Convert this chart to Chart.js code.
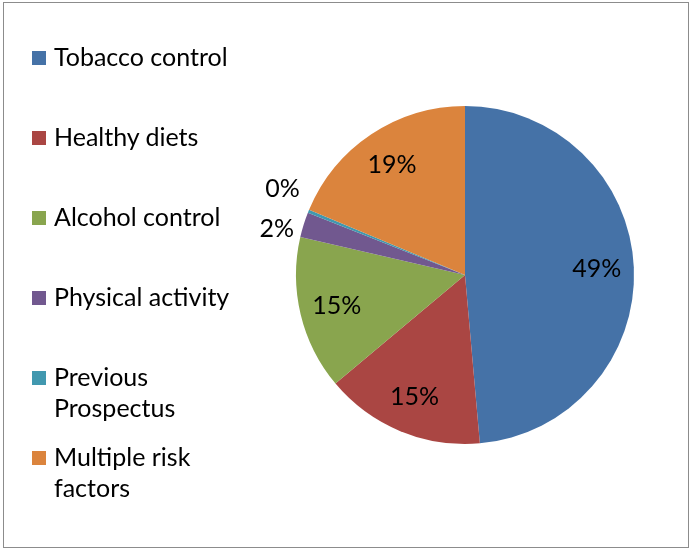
<!DOCTYPE html>
<html>
<head>
<meta charset="utf-8">
<script src="https://cdn.jsdelivr.net/npm/chart.js@4.4.1/dist/chart.umd.min.js"></script>
<style>
  body { margin: 0; background: #fff; }
  #wrap { position: relative; width: 691px; height: 549px; font-family: Lato, "Open Sans", sans-serif; }
  #frame { position: absolute; left: 3px; top: 2px; width: 684px; height: 544px; border: 1px solid #8c8c8c; pointer-events: none; }
  #chart { position: absolute; left: 0; top: 0; }
  .item { position: absolute; left: 32px; font-size: 25px; line-height: 31px; color: #000; }
  .item .sw { position: absolute; left: 0; top: 10px; width: 14px; height: 14px; }
  .item .txt { margin-left: 22px; max-width: 190px; }
</style>
</head>
<body>
<div id="wrap">
  <canvas id="chart" width="691" height="549"></canvas>
  <div id="legend"></div>
  <div id="frame"></div>
</div>
<script>
const categories = ['Tobacco control', 'Healthy diets', 'Alcohol control', 'Physical activity', 'Previous Prospectus', 'Multiple risk factors'];
const shares = [48.6, 15.3, 14.7, 2.4, 0.3, 18.7];
const colors = ['#4572A7', '#AA4643', '#89A54E', '#71588F', '#4198AF', '#DB843D'];

// legend built from the same arrays
const legend = document.getElementById('legend');
categories.forEach((name, i) => {
  const div = document.createElement('div');
  div.className = 'item';
  div.style.top = (41 + i * 80) + 'px';
  div.innerHTML = `<span class="sw" style="background:${colors[i]}"></span><div class="txt">${name}</div>`;
  legend.appendChild(div);
});

// percentage labels, small slices go outside
const pctLabels = {
  id: 'pctLabels',
  afterDatasetsDraw(chart) {
    const ctx = chart.ctx;
    const meta = chart.getDatasetMeta(0);
    const total = shares.reduce((a, b) => a + b, 0);
    const placed = [];
    meta.data.forEach((arc, i) => {
      const p = shares[i] / total * 100;
      const mid = (arc.startAngle + arc.endAngle) / 2;
      const outside = p < 5;
      const r = outside ? arc.outerRadius + 28 : arc.outerRadius * 0.78;
      placed.push({ x: arc.x + Math.cos(mid) * r, y: arc.y + Math.sin(mid) * r, text: Math.round(p) + '%', outside });
    });
    const outs = placed.filter(l => l.outside);
    for (let k = 1; k < outs.length; k++) {
      const a = outs[k - 1], b = outs[k];
      const gap = Math.abs(a.y - b.y);
      if (gap < 40) {
        const d = (40 - gap) / 2;
        if (a.y > b.y) { a.y += d; b.y -= d; } else { a.y -= d; b.y += d; }
      }
    }
    ctx.save();
    ctx.font = '25px Lato, "Open Sans", sans-serif';
    ctx.fillStyle = '#000';
    ctx.textAlign = 'center';
    ctx.textBaseline = 'middle';
    placed.forEach(l => ctx.fillText(l.text, l.x, l.y));
    ctx.restore();
  }
};

new Chart(document.getElementById('chart'), {
  type: 'pie',
  data: {
    labels: categories,
    datasets: [{
      data: shares,
      backgroundColor: colors,
      borderWidth: 0
    }]
  },
  options: {
    responsive: false,
    animation: false,
    layout: { padding: { left: 296, right: 57, top: 106, bottom: 105 } },
    plugins: {
      legend: { display: false },
      tooltip: { enabled: false }
    }
  },
  plugins: [pctLabels]
});
</script>
</body>
</html>
